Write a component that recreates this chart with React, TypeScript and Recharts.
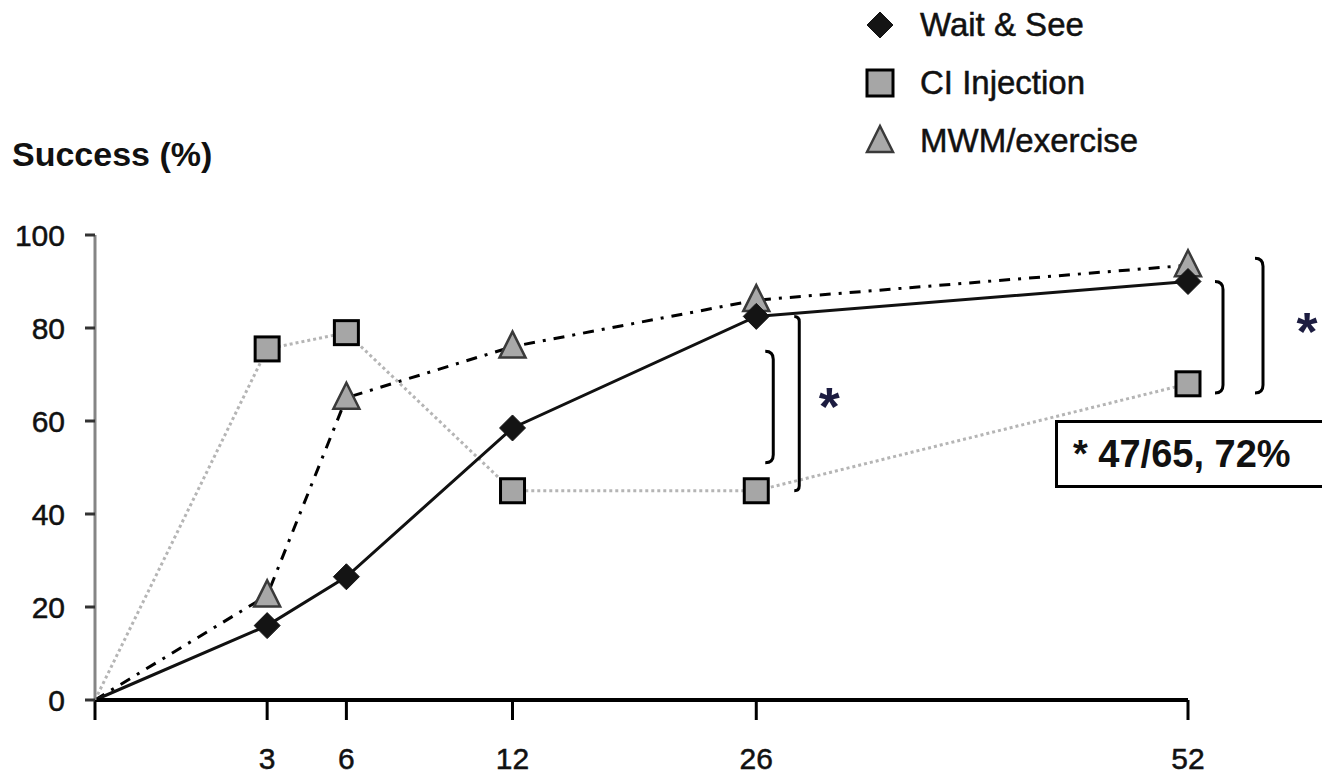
import React from "react";
import { LineChart, Line, XAxis, YAxis, Legend, ReferenceLine, ReferenceDot } from "recharts";

const weeks = [0, 3, 6, 12, 26, 52];
const waitAndSee = [0, 16, 26.5, 58.5, 82.5, 90];
const ciInjection = [0, 75.5, 79, 45, 45, 68];
const mwmExercise = [0, 22.5, 65, 76, 86, 93.5];
const yTicks = [0, 20, 40, 60, 80, 100];
const legendOrder = ["wait", "ci", "mwm"];

// the original time axis is not linear, this is where each week sits along it (0..1)
const axisWeeks = [0, 3, 6, 12, 26, 52];
const axisFraction = [0, 0.1575, 0.23, 0.382, 0.605, 1];

const data = weeks.map((w, i) => ({
  week: w,
  wait: waitAndSee[i],
  ci: ciInjection[i],
  mwm: mwmExercise[i],
}));

const FONT = '"Liberation Sans", Arial, sans-serif';
const INK = "#111";

const toFraction = (v: number) => {
  for (let i = 1; i < axisWeeks.length; i++) {
    if (v <= axisWeeks[i] || i === axisWeeks.length - 1) {
      const a = axisWeeks[i - 1];
      const b = axisWeeks[i];
      return axisFraction[i - 1] + ((v - a) / (b - a)) * (axisFraction[i] - axisFraction[i - 1]);
    }
  }
  return 0;
};

// minimal d3-like scale so recharts can place weeks on the piecewise axis
function weekScale(): any {
  let dom: number[] = [0, 52];
  let rng: number[] = [0, 1];
  const s: any = (v: number) => rng[0] + toFraction(Number(v)) * (rng[1] - rng[0]);
  s.domain = (d?: any[]) => {
    if (!d) return dom;
    dom = d.map(Number);
    return s;
  };
  s.range = (r?: any[]) => {
    if (!r) return rng;
    rng = r.map(Number);
    return s;
  };
  s.copy = () => weekScale().domain(dom).range(rng);
  s.ticks = () => weeks;
  return s;
}

const diamond = (cx: number, cy: number, r = 13) => (
  <polygon
    points={`${cx},${cy - r} ${cx + r},${cy} ${cx},${cy + r} ${cx - r},${cy}`}
    fill="#141414"
    stroke="#141414"
    strokeWidth={1}
  />
);
const square = (cx: number, cy: number, h = 12) => (
  <rect x={cx - h} y={cy - h} width={h * 2} height={h * 2} fill="#a6a6a6" stroke="#000" strokeWidth={3} />
);
const triangle = (cx: number, cy: number, r = 13) => (
  <polygon
    points={`${cx},${cy - r - 2} ${cx + r},${cy + r - 2} ${cx - r},${cy + r - 2}`}
    fill="#a8a8a8"
    stroke="#3a3a3a"
    strokeWidth={2.5}
  />
);

const markers: Record<string, (cx: number, cy: number) => React.ReactElement> = {
  wait: (cx, cy) => diamond(cx, cy),
  ci: (cx, cy) => square(cx, cy),
  mwm: (cx, cy) => triangle(cx, cy),
};

const makeDot = (key: string) => (p: any) => {
  if (p.index === 0 || p.cx == null) return <g key={`${key}-${p.index}`} />;
  return <g key={`${key}-${p.index}`}>{markers[key](p.cx, p.cy)}</g>;
};

const bracket = (dx: number, hook: number) => (p: any) => {
  const x = p.x1 + dx;
  const y1 = Math.min(p.y1, p.y2);
  const y2 = Math.max(p.y1, p.y2);
  return (
    <path
      d={`M${x - hook},${y1} Q${x},${y1} ${x},${y1 + hook} L${x},${y2 - hook} Q${x},${y2} ${x - hook},${y2}`}
      fill="none"
      stroke="#000"
      strokeWidth={3}
    />
  );
};

const star = (dx: number) => (p: any) => (
  <text
    x={p.cx + dx}
    y={p.cy + 27}
    textAnchor="middle"
    fontFamily={FONT}
    fontSize={54}
    fontWeight="bold"
    fill="#1c1c40"
  >
    *
  </text>
);

const renderLegend = (props: any) => {
  const payload = [...(props.payload || [])].sort(
    (a: any, b: any) => legendOrder.indexOf(a.dataKey) - legendOrder.indexOf(b.dataKey)
  );
  return (
    <div style={{ fontFamily: FONT, fontSize: 33, color: INK, WebkitTextStroke: "0.5px #111" }}>
      {payload.map((entry: any) => (
        <div key={entry.value} style={{ display: "flex", alignItems: "center", height: 58 }}>
          <svg width={40} height={40} style={{ overflow: "visible" }}>
            {entry.dataKey === "ci" ? square(20, 20, 13) : markers[entry.dataKey](20, 20)}
          </svg>
          <span style={{ marginLeft: 20 }}>{entry.value}</span>
        </div>
      ))}
    </div>
  );
};

const tickStyle = { fill: INK, fontSize: 30, fontFamily: FONT, stroke: INK, strokeWidth: 0.5 };

export default function App() {
  return (
    <div
      style={{
        position: "absolute",
        left: 0,
        top: 0,
        width: 1322,
        height: 775,
        overflow: "hidden",
        background: "#fff",
        fontFamily: FONT,
      }}
    >
      <LineChart width={1322} height={775} data={data} margin={{ top: 235, right: 134, bottom: 0, left: 0 }}>
        <XAxis
          dataKey="week"
          type="number"
          domain={[0, 52]}
          scale={weekScale()}
          ticks={weeks}
          tickFormatter={(v: number) => (v === 0 ? "" : String(v))}
          height={75}
          tickSize={20}
          tickMargin={28}
          axisLine={{ stroke: "#000", strokeWidth: 4 }}
          tickLine={{ stroke: "#000", strokeWidth: 3 }}
          tick={tickStyle}
        />
        <YAxis
          type="number"
          domain={[0, 100]}
          ticks={yTicks}
          width={95}
          tickSize={10}
          tickMargin={20}
          axisLine={{ stroke: "#858585", strokeWidth: 3 }}
          tickLine={{ stroke: "#333", strokeWidth: 3 }}
          tick={tickStyle}
        />
        <Legend
          layout="horizontal"
          verticalAlign="middle"
          align="center"
          content={renderLegend}
          wrapperStyle={{ top: -4, left: 860, width: 420 }}
        />
        <Line
          dataKey="ci"
          name="CI Injection"
          stroke="#b5b5b5"
          strokeWidth={3}
          strokeDasharray="3 3"
          dot={makeDot("ci")}
          activeDot={false}
          isAnimationActive={false}
        />
        <Line
          dataKey="mwm"
          name="MWM/exercise"
          stroke="#000"
          strokeWidth={3}
          strokeDasharray="11 8 3 8"
          dot={makeDot("mwm")}
          activeDot={false}
          isAnimationActive={false}
        />
        <Line
          dataKey="wait"
          name="Wait & See"
          stroke="#111"
          strokeWidth={3}
          dot={makeDot("wait")}
          activeDot={false}
          isAnimationActive={false}
        />
        <ReferenceLine segment={[{ x: 26, y: 75 }, { x: 26, y: 51 }]} ifOverflow="visible" shape={bracket(17, 8)} />
        <ReferenceLine
          segment={[{ x: 26, y: waitAndSee[4] }, { x: 26, y: ciInjection[4] }]}
          ifOverflow="visible"
          shape={bracket(43, 5)}
        />
        <ReferenceLine segment={[{ x: 52, y: 90 }, { x: 52, y: 66 }]} ifOverflow="visible" shape={bracket(35, 8)} />
        <ReferenceLine segment={[{ x: 52, y: 95 }, { x: 52, y: 66 }]} ifOverflow="visible" shape={bracket(75, 8)} />
        <ReferenceDot x={26} y={65} ifOverflow="visible" shape={star(73)} />
        <ReferenceDot x={52} y={81} ifOverflow="visible" shape={star(119)} />
      </LineChart>

      <div
        style={{
          position: "absolute",
          left: 12,
          top: 137,
          fontSize: 34,
          fontWeight: "bold",
          lineHeight: 1,
          color: INK,
        }}
      >
        Success (%)
      </div>

      <div
        style={{
          position: "absolute",
          left: 1055,
          top: 420,
          width: 300,
          height: 62,
          border: "3px solid #000",
          boxSizing: "content-box",
          fontSize: 38,
          fontWeight: "bold",
          lineHeight: "62px",
          paddingLeft: 15,
          color: INK,
        }}
      >
        * 47/65, 72%
      </div>
    </div>
  );
}
